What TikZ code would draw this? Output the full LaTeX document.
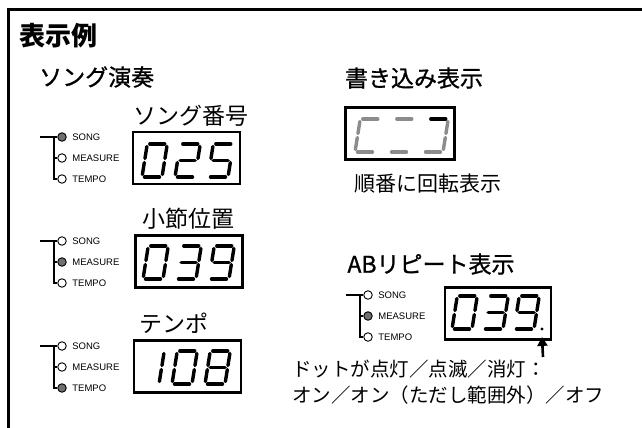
\documentclass[tikz,border=0pt]{standalone}
\usepackage{fontspec}
\setmainfont{Liberation Sans}
\newfontfamily\jp{Noto Sans CJK JP}
\newfontfamily\jpm[FakeBold=1.0]{Noto Sans CJK JP}
\usetikzlibrary{arrows.meta}
\definecolor{ledgray}{HTML}{707070}
\definecolor{seggray}{HTML}{8C8C8C}
\tikzset{
  frame/.style={line width=3pt},
  dispbox/.style={draw, line width=2.6pt, inner sep=0pt, minimum width=107pt, minimum height=52pt},
  seg/.style={line width=3.4pt, line cap=round},
  led/.style={circle, draw, line width=0.9pt, inner sep=0pt, minimum size=8.5pt},
  ledlbl/.style={anchor=west, inner sep=0pt, font=\fontsize{9.5}{10}\selectfont},
  tree/.style={line width=1.1pt},
  treetop/.style={line width=1.6pt},
  jplbl/.style={inner sep=0pt, font=\jp\fontsize{23}{24}\selectfont},
  jphead/.style={inner sep=0pt, font=\jpm\fontsize{23}{24}\selectfont},
  jpsmall/.style={inner sep=0pt, anchor=west, font=\jp\fontsize{19.5}{20}\selectfont},
}
\def\SGa{\draw[seg] (2.5,-33)--(17.5,-33);}
\def\SGb{\draw[seg] (20,-30.5)--(20,-18.5);}
\def\SGc{\draw[seg] (20,-14.5)--(20,-2.5);}
\def\SGd{\draw[seg] (2.5,0)--(17.5,0);}
\def\SGe{\draw[seg] (0,-14.5)--(0,-2.5);}
\def\SGf{\draw[seg] (0,-30.5)--(0,-18.5);}
\def\SGg{\draw[seg] (2.5,-16.5)--(17.5,-16.5);}
\newcommand\dg[4][black]{%
  \begin{scope}[shift={(#2,#3)}, xslant=0.16, color=#1]
    \foreach \s in {#4}{\csname SG\s\endcsname}
  \end{scope}}
\newcommand\ledgrp[6]{%
  \node[led,fill=#4] (#1s) at (#2,#3) {};
  \node[led,fill=#5] (#1m) at (#2,#3+21) {};
  \node[led,fill=#6] (#1t) at (#2,#3+42) {};
  \node[ledlbl] (#1sl) at ([xshift=5.5pt]#1s.east) {SONG};
  \node[ledlbl] (#1ml) at ([xshift=5.5pt]#1m.east) {MEASURE};
  \node[ledlbl] (#1tl) at ([xshift=5.5pt]#1t.east) {TEMPO};
  \coordinate (#1l) at (#2-22,#3);
  \coordinate (#1v) at (#2-8,#3);
  \draw[treetop] (#1l) -- (#1s);
  \draw[tree] (#1v) |- (#1t);
  \draw[tree] (#1v |- #1m) -- (#1m);
}
\begin{document}
\begin{tikzpicture}[x=1pt, y=-1pt]
\useasboundingbox (0,0) rectangle (642,428);
\fill[white] (0,0) rectangle (642,428);
\draw[frame] (8,440) -- (8,10) -- (660,10);

% headings
\node[inner sep=0pt, anchor=west, font=\jp\bfseries\fontsize{26}{26}\selectfont] (title) at (19,36) {表示例};
\node[jphead, anchor=west] (h1) at (39,77) {ソング演奏};
\node[jphead] (h2) at (414,78) {書き込み表示};
\node[jphead] (h3) at (431,264) {ABリピート表示};

% song number
\node[jplbl] (t1) at (191,116) {ソング番号};
\node[dispbox] (d1) at (186.5,158) {};
\dg{142}{177}{a,b,c,d,e,f}
\dg{175}{177}{a,b,g,e,d}
\dg{208}{177}{a,f,g,c,d}
\ledgrp{g1}{62}{137}{ledgray}{white}{white}

% measure
\node[jplbl] (t2) at (188,219) {小節位置};
\node[dispbox] (d2) at (189,261.5) {};
\dg{143}{279}{a,b,c,d,e,f}
\dg{176}{279}{a,b,g,c,d}
\dg{209}{279}{a,b,c,d,f,g}
\ledgrp{g2}{62}{241}{white}{ledgray}{white}

% tempo
\node[jplbl] (t3) at (174,323) {テンポ};
\node[dispbox] (d3) at (187.5,366.5) {};
\dg{139}{384}{b,c}
\dg{172}{384}{a,b,c,d,e,f}
\dg{205}{384}{a,b,c,d,e,f,g}
\ledgrp{g3}{62}{346}{white}{white}{ledgray}

% write display
\node[dispbox, minimum width=109pt, minimum height=52pt] (d4) at (400,133.5) {};
\dg[seggray]{355}{152}{a,f,e,d}
\dg[seggray]{389}{152}{a,d}
\dg[seggray]{423}{152}{b,c,d}
\dg{423}{152}{a}
\node[jplbl, font=\jp\fontsize{21}{22}\selectfont] (t4) at (428,184) {順番に回転表示};

% AB repeat
\node[dispbox, minimum width=106pt, minimum height=52pt] (d5) at (498,313.5) {};
\dg{452}{329}{a,b,c,d,e,f}
\dg{483}{329}{a,b,g,c,d}
\dg{514}{329}{a,b,c,d,f,g}
\node[circle, fill=black, inner sep=0pt, minimum size=3.4pt] (dp) at (542,329) {};
\ledgrp{g4}{368}{295}{white}{ledgray}{white}
\coordinate (atail) at (543,357);
\draw[line width=2.6pt, -{Triangle[width=10pt,length=9pt]}] (atail) -- ([yshift=-6pt]dp.south);

\node[jpsmall] (n1) at (292,369) {ドットが点灯／点滅／消灯：};
\node[jpsmall] (n2) at (292,395) {オン／オン（ただし範囲外）／オフ};
\end{tikzpicture}
\end{document}
